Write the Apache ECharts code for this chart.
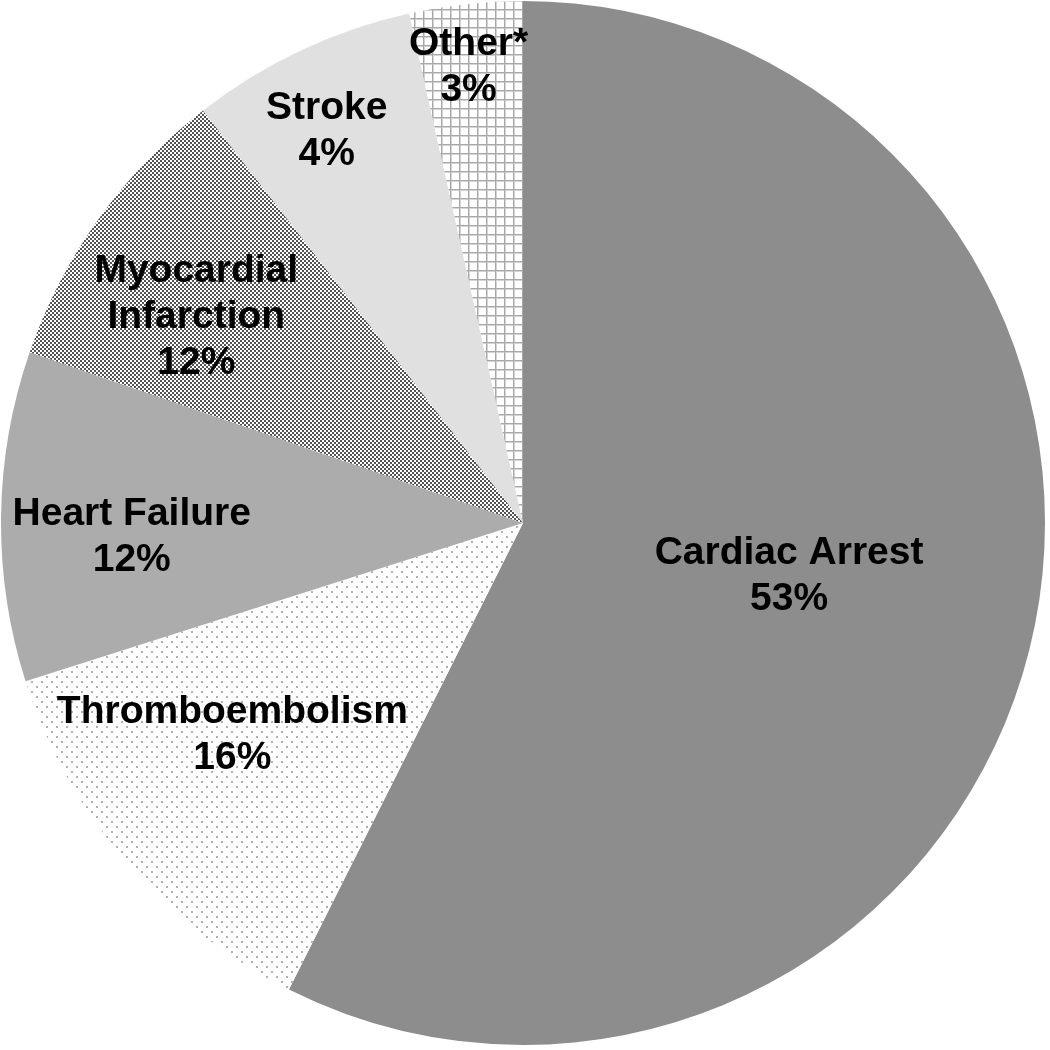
<!DOCTYPE html>
<html>
<head>
<meta charset="utf-8">
<script src="https://cdn.jsdelivr.net/npm/echarts@6/dist/echarts.min.js"></script>
<style>
html,body{margin:0;padding:0;background:#fff;}
#chart{width:1050px;height:1050px;}
</style>
</head>
<body>
<div id="chart"></div>
<script>
const categories = ['Cardiac Arrest', 'Thromboembolism', 'Heart Failure', 'Myocardial\nInfarction', 'Stroke', 'Other*'];
const sliceShares = [57.4, 12.7, 10.2, 9.2, 7.0, 3.5];
const percentLabels = ['53%', '16%', '12%', '12%', '4%', '3%'];

// Layout
const CX = 523, CY = 523, R = 522;
const labelRadiusFrac = [0.52, 0.69, 0.75, 0.74, 0.84, 0.88];
const labelAngleShift = [-1.9, 4.3, -2.8, -3.4, -1.4, -0.5];

function makeTile(w, h, draw) {
  const c = document.createElement('canvas');
  c.width = w; c.height = h;
  const g = c.getContext('2d');
  draw(g, w, h);
  return { image: c, repeat: 'repeat' };
}
const dotsPattern = makeTile(10, 10, (g) => {
  g.fillStyle = '#ffffff'; g.fillRect(0, 0, 10, 10);
  g.fillStyle = '#b0b0b0';
  g.fillRect(1, 1, 2, 2);
  g.fillRect(6, 6, 2, 2);
});
const checkPattern = makeTile(4, 4, (g) => {
  g.fillStyle = '#ffffff'; g.fillRect(0, 0, 4, 4);
  g.fillStyle = '#555555';
  g.fillRect(0, 0, 2, 2);
  g.fillRect(2, 2, 2, 2);
});
const gridPattern = makeTile(9, 9, (g) => {
  g.fillStyle = '#ffffff'; g.fillRect(0, 0, 9, 9);
  g.fillStyle = '#d4d4d4';
  g.fillRect(0, 0, 9, 2);
  g.fillRect(0, 0, 2, 9);
  g.fillStyle = '#a8a8a8';
  g.fillRect(0, 0, 9, 1);
  g.fillRect(0, 0, 1, 9);
});
const fills = ['#8d8d8d', dotsPattern, '#acacac', checkPattern, '#e0e0e0', gridPattern];

const total = sliceShares.reduce((a, b) => a + b, 0);
const midAngles = [];
let acc = 0;
sliceShares.forEach(v => {
  const span = v / total * 360;
  midAngles.push(acc + span / 2);
  acc += span;
});

const chart = echarts.init(document.getElementById('chart'), null, { renderer: 'canvas' });
chart.setOption({
  animation: false,
  backgroundColor: '#ffffff',
  series: [{
    type: 'pie',
    center: [CX, CY],
    radius: [0, R],
    startAngle: 90,
    clockwise: true,
    silent: true,
    emphasis: { disabled: true },
    itemStyle: { borderWidth: 0 },
    label: {
      show: true,
      position: 'inside',
      formatter: (p) => p.name + '\n' + percentLabels[p.dataIndex],
      fontFamily: 'Liberation Sans, Arial, sans-serif',
      fontWeight: 'bold',
      fontSize: 39,
      lineHeight: 46,
      color: '#000000',
      align: 'center'
    },
    labelLine: { show: false },
    labelLayout: (params) => {
      const i = params.dataIndex;
      const a = (midAngles[i] + labelAngleShift[i]) * Math.PI / 180;
      const rr = R * labelRadiusFrac[i];
      return {
        x: CX + rr * Math.sin(a),
        y: CY - rr * Math.cos(a),
        align: 'center',
        verticalAlign: 'middle'
      };
    },
    data: categories.map((name, i) => ({
      name: name,
      value: sliceShares[i],
      itemStyle: { color: fills[i] }
    }))
  }]
});
</script>
</body>
</html>
